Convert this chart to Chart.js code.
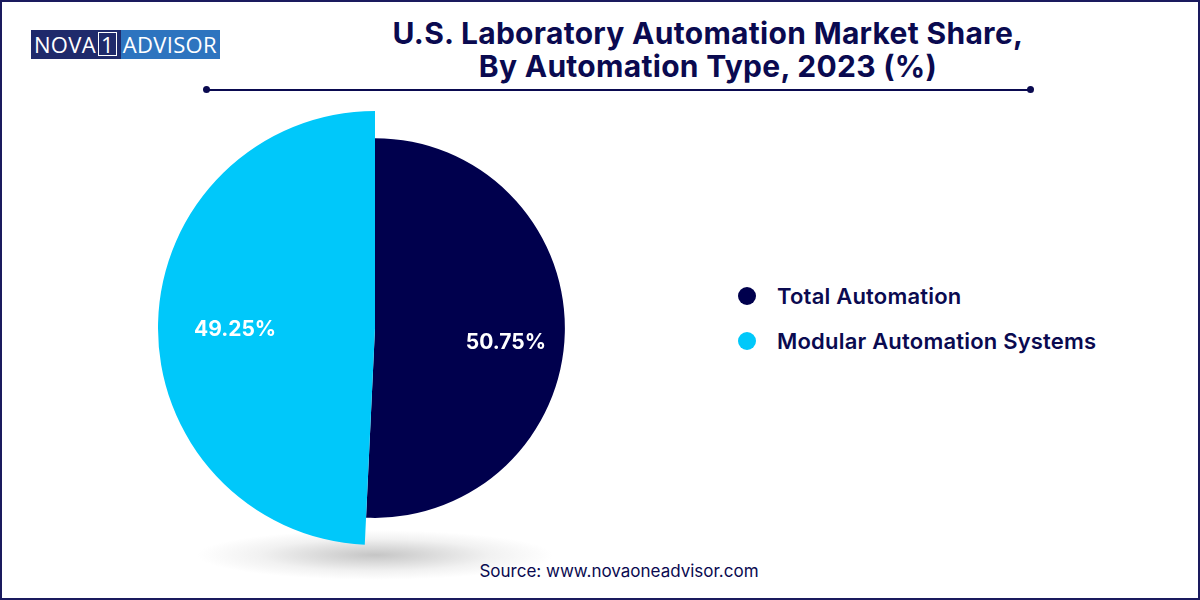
<!DOCTYPE html>
<html><head><meta charset="utf-8">
<script src="https://cdn.jsdelivr.net/npm/chart.js@4"></script>
<style>
body{margin:0;width:1200px;height:600px;background:#fff;font-family:Inter,"Open Sans",sans-serif;overflow:hidden}
#frame{position:absolute;left:0;top:0;width:1196px;height:596px;border:2px solid #1a1a5e}
#logo{position:absolute;left:31px;top:30px;height:29px;display:flex;font-family:"Open Sans",sans-serif;font-size:22px;color:#fff;line-height:29px;letter-spacing:0.3px}
#logo .a{background:#1f2a6b;padding:0 2px 0 3px}
#logo .b{background:#2d74bf;padding:0 3px 0 2px}
#logo .one{display:inline-block;border:1px solid #fff;line-height:22px;padding:0 2px;margin:0 2px}
#title{position:absolute;left:308px;width:800px;top:17px;text-align:center;font-weight:700;font-size:30px;line-height:33px;color:#0a0a50;letter-spacing:0.3px}
#rule{position:absolute;left:206px;top:89px;width:824px;height:2px;background:#0a0a50}
.dot{position:absolute;top:86px;width:7px;height:7px;border-radius:50%;background:#0a0a50}
#shadow{position:absolute;left:195px;top:530px;width:360px;height:50px;background:radial-gradient(ellipse at center,rgba(150,150,150,0.55) 0%,rgba(200,200,200,0.25) 45%,rgba(255,255,255,0) 70%)}
#wrap{position:absolute;left:158px;top:111px;width:434px;height:434px}
#legend{position:absolute;left:738px;top:273px;font-weight:600;font-size:22px;color:#0a0a50;letter-spacing:0.2px}
#legend div{display:flex;align-items:center;height:45px}
#legend span.c{width:18px;height:18px;border-radius:50%;margin-right:21px;display:inline-block}
#source{position:absolute;left:0;width:1238px;top:561px;text-align:center;font-size:17px;color:#0a0a50}
</style></head><body>
<div id="frame"></div>
<div id="logo"><span class="a">NOVA<span class="one">1</span></span><span class="b">ADVISOR</span></div>
<div id="title">U.S. Laboratory Automation Market Share,<br>By Automation Type, 2023 (%)</div>
<div id="rule"></div><div class="dot" style="left:203px"></div><div class="dot" style="left:1027px"></div>
<div id="shadow"></div>
<div id="wrap"><canvas id="c"></canvas></div>
<div id="legend"></div>
<div id="source">Source: www.novaoneadvisor.com</div>
<script>
const categories=["Total Automation","Modular Automation Systems"];
const values=[50.75,49.25];
const colors=["#00004d","#00c8fa"];
const radiusScale=[0.875,1];
const lg=document.getElementById('legend');
categories.forEach((c,i)=>{lg.innerHTML+=`<div><span class="c" style="background:${colors[i]}"></span>${c}</div>`;});
const plug={id:'custom',
 afterDatasetsUpdate(chart){const m=chart.getDatasetMeta(0);m.data.forEach((a,i)=>{a.outerRadius=a.outerRadius*radiusScale[i];});},
 afterDatasetsDraw(chart){const ctx=chart.ctx;const m=chart.getDatasetMeta(0);
  ctx.save();ctx.fillStyle='#fff';ctx.font='bold 21px Inter, sans-serif';ctx.textAlign='center';ctx.textBaseline='middle';
  m.data.forEach((a,i)=>{const mid=(a.startAngle+a.endAngle)/2;const r=a.outerRadius*(i==0?0.69:0.645);
   ctx.fillText(values[i].toFixed(2)+'%',a.x+Math.cos(mid)*r,a.y+Math.sin(mid)*r+(i==0?12:5));});
  ctx.restore();}};
new Chart(document.getElementById('c'),{type:'pie',
 data:{labels:categories,datasets:[{data:values,backgroundColor:colors,borderWidth:0}]},
 options:{responsive:true,maintainAspectRatio:false,animation:false,layout:{padding:0},
  plugins:{legend:{display:false},tooltip:{enabled:false}}},plugins:[plug]});
</script>
</body></html>
